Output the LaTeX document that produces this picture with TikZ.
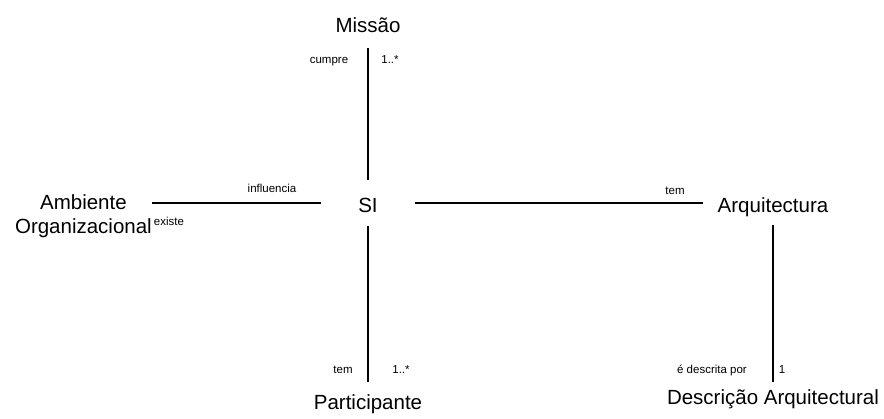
\documentclass[tikz,border=0pt]{standalone}
\usepackage{fontspec}
\setmainfont{Liberation Sans}
\usepackage{tikz}
\usetikzlibrary{calc,positioning}
\tikzstyle{concept}=[inner sep=0pt, text height=15pt, text depth=4pt, font=\fontsize{20.5}{24}\selectfont]
\tikzstyle{role}=[inner sep=0pt, anchor=base, font=\fontsize{11.5}{13}\selectfont]
\tikzstyle{assoc}=[draw, line width=1.8pt]

\begin{document}
\begin{tikzpicture}[x=1pt, y=-1pt]
    \useasboundingbox (0,0) rectangle (884,419);
    % Place the concepts
    \node[concept, minimum width=93pt, minimum height=46pt, text height=20pt, text depth=0pt] (si) at (368,203) {SI};
    \node[concept, anchor=base] (mis) at (368,33) {Missão};
    \node[concept, anchor=base] (par) at (368,410) {Participante};
    \node[concept, anchor=base] (arq) at (773,213) {Arquitectura};
    \node[concept, anchor=base] (des) at (773,405) {Descrição Arquitectural};
    \node[concept, anchor=east, align=center, text height=, text depth=] (amb) at (152,216.5) {Ambiente\\Organizacional};

     % role names and multiplicities
     \node[role] (r1) at (329,64) {cumpre};
     \node[role] (m1) at (390,64) {1..*};
     \node[role] (r2) at (272,193) {influencia};
     \node[role] (r3) at (169,226) {existe};
     \node[role] (r4) at (675,195) {tem};
     \node[role] (r5) at (343,374) {tem};
     \node[role] (m5) at (401,374) {1..*};
     \node[role] (r6) at (712,374) {é descrita por};
     \node[role] (m6) at (782,374) {1};

     \path[assoc] (mis) edge[shorten <=11pt] (si);
     \path[assoc] (si) edge[shorten >=13pt] (par);
     \path[assoc] (si.west) edge (si.west -| amb.east);
     \path[assoc] (si.east) edge[shorten >=15pt] (si.east -| arq.west);
     \path[assoc] (arq) edge[shorten <=8pt, shorten >=8pt] (des);

  \end{tikzpicture}
\end{document}
